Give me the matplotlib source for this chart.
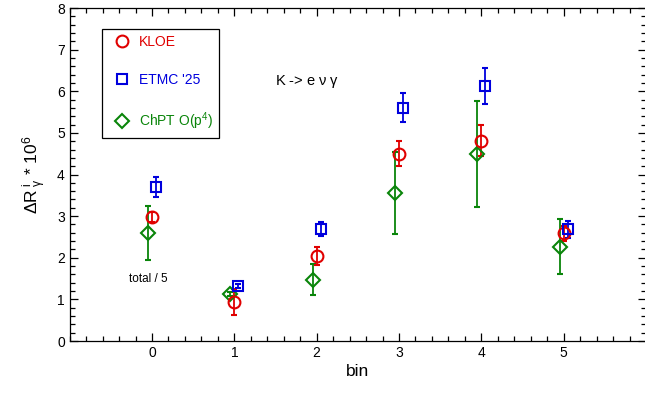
import matplotlib
matplotlib.use("Agg")
import matplotlib.pyplot as plt
from matplotlib.lines import Line2D
import numpy as np

plt.rcParams['font.family'] = ['Liberation Sans', 'DejaVu Sans']
plt.rcParams['mathtext.fontset'] = 'custom'
plt.rcParams['mathtext.rm'] = 'Liberation Sans'
plt.rcParams['mathtext.it'] = 'Liberation Sans'
plt.rcParams['mathtext.sf'] = 'Liberation Sans'

# bins
bins = np.array([0, 1, 2, 3, 4, 5])

# KLOE measurement
kloe = [2.97, 0.94, 2.04, 4.50, 4.81, 2.59]
kloe_err = [0.12, 0.31, 0.22, 0.30, 0.37, 0.18]

# ETMC '25 lattice
etmc = [3.69, 1.32, 2.69, 5.60, 6.13, 2.68]
etmc_err = [0.24, 0.05, 0.17, 0.35, 0.43, 0.20]

# ChPT O(p^4)
chpt = [2.60, 1.13, 1.47, 3.55, 4.50, 2.27]
chpt_err = [0.65, 0.05, 0.37, 0.98, 1.27, 0.65]

red = '#e00000'
blue = '#0000dd'
green = '#0a850a'

fig = plt.figure(figsize=(6.45, 3.93), dpi=100)
ax = fig.add_axes([0.108, 0.1323, 0.8936, 0.8473])

common = dict(linestyle='none', mfc='none', mew=1.5, elinewidth=1.3, capsize=2.5, capthick=1.3)
ax.errorbar(bins - 0.05, chpt, yerr=chpt_err, fmt='D', color=green, ms=7, **common)
ax.errorbar(bins + 0.0, kloe, yerr=kloe_err, fmt='o', color=red, ms=8.5, **common)
ax.errorbar(bins + 0.05, etmc, yerr=etmc_err, fmt='s', color=blue, ms=7.5, **common)

ax.set_xlim(-1, 6)
ax.set_ylim(0, 8)
ax.set_xticks([0, 1, 2, 3, 4, 5])
ax.set_xticks(np.arange(-1, 6.01, 0.2), minor=True)
ax.set_yticks(range(0, 9))
ax.set_yticks(np.arange(0, 8.01, 0.2), minor=True)
ax.tick_params(which='both', direction='in', top=True, right=True, labelsize=10, width=0.9)
ax.tick_params(which='major', length=6)
ax.tick_params(which='minor', length=3.5)
for s in ax.spines.values():
    s.set_linewidth(0.9)

ax.set_xlabel('bin', fontsize=12.5, labelpad=3)
ax.set_ylabel(r'$\Delta$R$^{\ i}_{\ \gamma}$ * 10$^{6}$', fontsize=12.5, labelpad=6)

# legend shows markers only
handles = [
    Line2D([], [], linestyle='none', marker='o', mfc='none', mec=red, mew=1.5, ms=8.5),
    Line2D([], [], linestyle='none', marker='s', mfc='none', mec=blue, mew=1.5, ms=7.5),
    Line2D([], [], linestyle='none', marker='D', mfc='none', mec=green, mew=1.5, ms=7),
]
labels = ['KLOE', "ETMC '25", 'ChPT O(p$^4$)']
leg = ax.legend(handles, labels,
                loc='upper left', bbox_to_anchor=(0.056, 0.937), borderaxespad=0,
                fontsize=10, labelspacing=1.7, handlelength=2.0, handletextpad=0.2,
                borderpad=0.45, fancybox=False, framealpha=1, edgecolor='black')
leg.get_frame().set_linewidth(0.9)
for txt, c in zip(leg.get_texts(), [red, blue, green]):
    txt.set_color(c)

ax.text(1.49, 6.23, r'K -> e $\nu$ $\gamma$', fontsize=10.5, ha='left', va='center')
ax.text(-0.28, 1.49, 'total / 5', fontsize=8.5, ha='left', va='center')

fig.savefig('out.png', dpi=100)
